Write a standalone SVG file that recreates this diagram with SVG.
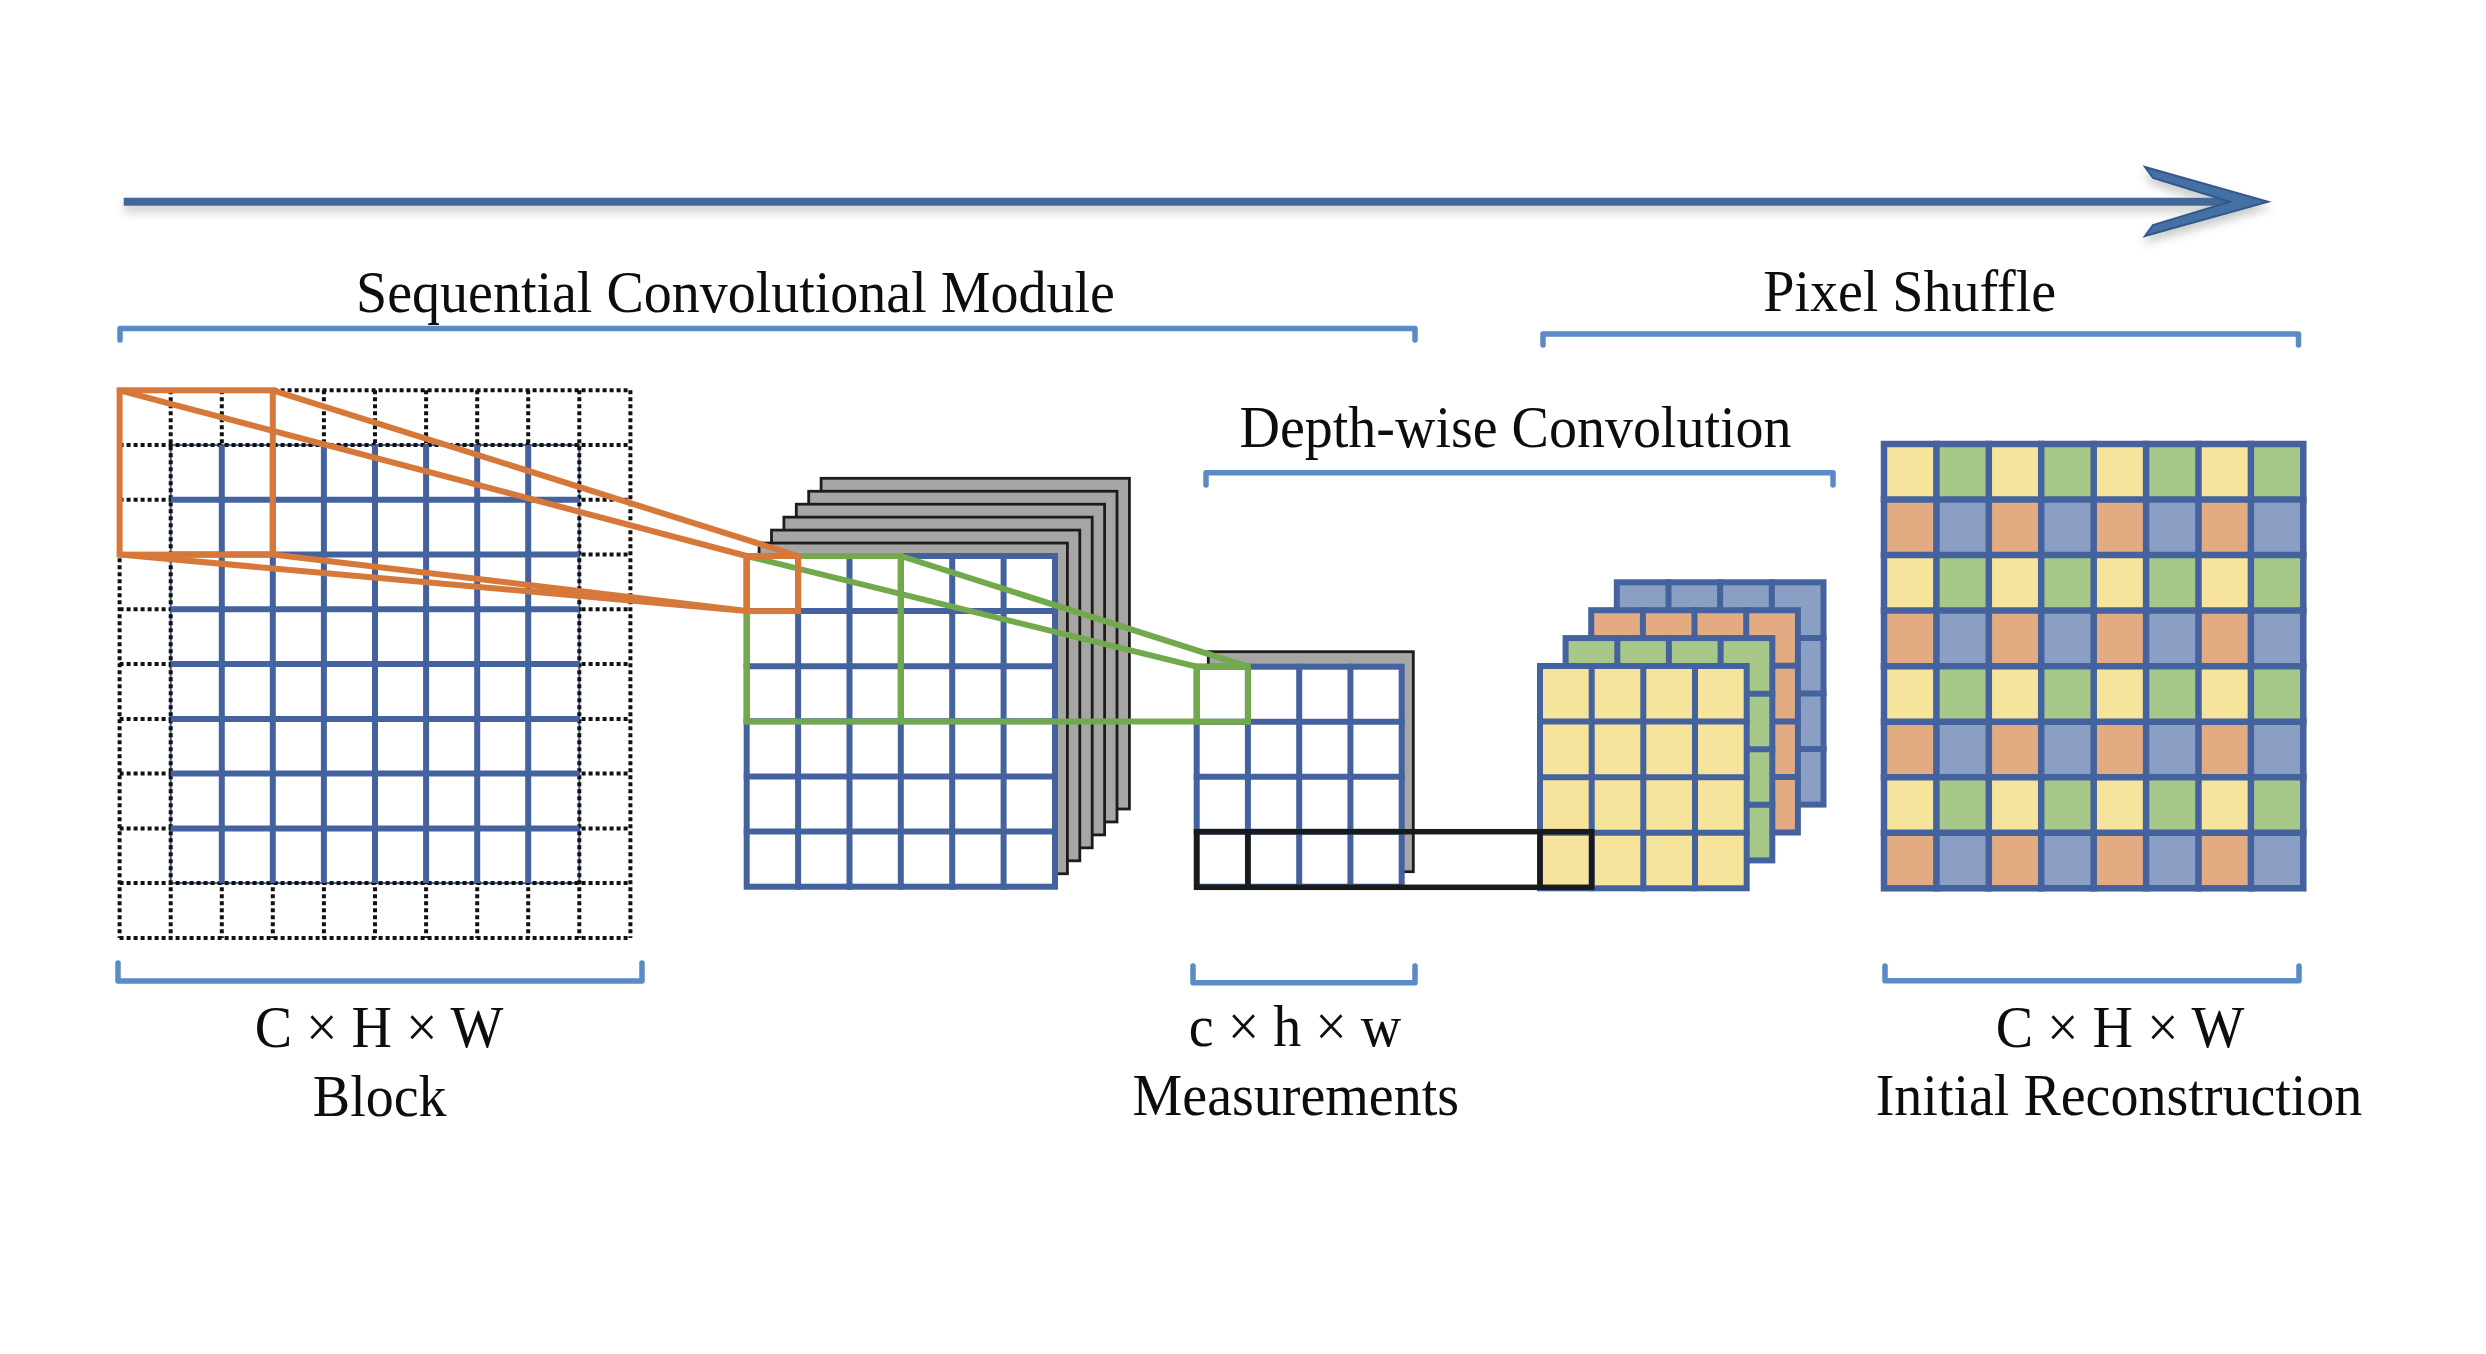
<svg xmlns="http://www.w3.org/2000/svg" width="2486" height="1354" viewBox="0 0 2486 1354">
<defs>
<style>
.lbl{font-family:"Liberation Serif","Times New Roman",serif;font-size:56px;fill:#0d0d0d;text-anchor:middle}
.bl{fill:none;stroke:#44629d;stroke-width:6;stroke-linecap:square}
.cell{stroke:#44629d;stroke-width:6}
.dot{fill:none;stroke:#111;stroke-width:4;stroke-dasharray:4 3}
.gray{fill:#a6a6a4;stroke:#1c1c1c;stroke-width:2.8}
.br{fill:none;stroke:#5b8bc5;stroke-width:5.5;stroke-linejoin:round;stroke-linecap:round}
.or{fill:none;stroke:#d7783b;stroke-width:6}
.gr{fill:none;stroke:#72a94c;stroke-width:6}
.blk{fill:none;stroke:#1a1a1a;stroke-width:5.5}
</style>
<filter id="sh" filterUnits="userSpaceOnUse" x="80" y="140" width="2240" height="130">
<feDropShadow dx="0" dy="6" stdDeviation="5" flood-color="#000" flood-opacity="0.22"/>
</filter>
<pattern id="ps" patternUnits="userSpaceOnUse" x="1884" y="444" width="104.83" height="111.08">
<rect width="52.42" height="55.54" fill="#f7e49c"/>
<rect x="52.41" width="52.42" height="55.54" fill="#a8c88a"/>
<rect y="55.54" width="52.42" height="55.54" fill="#e2ab82"/>
<rect x="52.41" y="55.54" width="52.42" height="55.54" fill="#8b9ec4"/>
</pattern>
<g id="dw">
<rect class="cell" width="206.7" height="222.3"/>
<path class="bl" d="M51.7 0V222.3M103.3 0V222.3M155 0V222.3M0 55.6H206.7M0 111.2H206.7M0 166.7H206.7"/>
</g>
</defs>
<rect width="2486" height="1354" fill="#fff"/>

<g id="block">
<rect x="119.6" y="390.3" width="510.8" height="547.6" fill="#fff"/>
<rect x="170.7" y="445.1" width="408.6" height="438" fill="none" stroke="#44629d" stroke-width="2"/>
<path class="dot" d="M119.6 390.3V937.9M170.7 390.3V937.9M221.8 390.3V937.9M272.8 390.3V937.9M323.9 390.3V937.9M375 390.3V937.9M426.1 390.3V937.9M477.2 390.3V937.9M528.2 390.3V937.9M579.3 390.3V937.9M630.4 390.3V937.9M119.6 390.3H630.4M119.6 445.1H630.4M119.6 499.8H630.4M119.6 554.6H630.4M119.6 609.3H630.4M119.6 664.1H630.4M119.6 718.9H630.4M119.6 773.6H630.4M119.6 828.4H630.4M119.6 883.1H630.4M119.6 937.9H630.4"/>
<path class="bl" style="stroke-linecap:butt" d="M221.8 445.1V883.1M272.8 445.1V883.1M323.9 445.1V883.1M375 445.1V883.1M426.1 445.1V883.1M477.2 445.1V883.1M528.2 445.1V883.1M170.7 499.8H579.3M170.7 554.6H579.3M170.7 609.3H579.3M170.7 664.1H579.3M170.7 718.9H579.3M170.7 773.6H579.3M170.7 828.4H579.3"/>
</g>

<g id="feature-maps">
<rect class="gray" x="821.1" y="478.3" width="308.3" height="330.7"/>
<rect class="gray" x="808.7" y="491.25" width="308.3" height="330.7"/>
<rect class="gray" x="796.3" y="504.2" width="308.3" height="330.7"/>
<rect class="gray" x="783.9" y="517.15" width="308.3" height="330.7"/>
<rect class="gray" x="771.5" y="530.1" width="308.3" height="330.7"/>
<rect class="gray" x="759.1" y="543.05" width="308.3" height="330.7"/>
<rect class="cell" x="746.7" y="556" width="308.3" height="330.7" fill="#fff"/>
<path class="bl" d="M798.1 556V886.7M849.5 556V886.7M900.8 556V886.7M952.2 556V886.7M1003.6 556V886.7M746.7 611.1H1055M746.7 666.2H1055M746.7 721.3H1055M746.7 776.4H1055M746.7 831.6H1055"/>
</g>

<g id="measurements">
<rect class="gray" x="1208.3" y="651.7" width="205" height="220"/>
<rect class="cell" x="1196.7" y="666.7" width="205" height="220" fill="#fff"/>
<path class="bl" d="M1247.9 666.7V886.7M1299.2 666.7V886.7M1350.4 666.7V886.7M1196.7 721.7H1401.7M1196.7 776.7H1401.7M1196.7 831.7H1401.7"/>
</g>

<g id="depthwise">
<use href="#dw" x="1616.8" y="582.3" fill="#8b9ec4"/>
<use href="#dw" x="1591.2" y="610.2" fill="#e2ab82"/>
<use href="#dw" x="1565.6" y="638.1" fill="#a8c88a"/>
<use href="#dw" x="1540" y="666" fill="#f7e49c"/>
</g>

<g id="reconstruction">
<rect class="cell" x="1884" y="444" width="419.3" height="444.3" fill="url(#ps)" style="stroke-width:6.5"/>
<path class="bl" style="stroke-width:6.5" d="M1936.4 444V888.3M1988.8 444V888.3M2041.2 444V888.3M2093.7 444V888.3M2146.1 444V888.3M2198.5 444V888.3M2250.9 444V888.3M1884 499.5H2303.3M1884 555.1H2303.3M1884 610.6H2303.3M1884 666.2H2303.3M1884 721.7H2303.3M1884 777.2H2303.3M1884 832.8H2303.3"/>
</g>

<g id="connectors">
<g id="green-projection">
<rect class="gr" x="746.7" y="556" width="154.1" height="165.5"/>
<path class="gr" d="M746.7 556L1196.7 666.7M900.8 556L1247.9 666.7M900.8 721.5H1196.7"/>
<rect class="gr" x="1196.7" y="666.7" width="51.2" height="55"/>
</g>
<g id="orange-projection">
<rect class="or" x="119.6" y="390.3" width="153.2" height="164.3"/>
<path class="or" d="M119.6 390.3L746.7 556M272.8 390.3L798.1 556M119.6 554.6L746.7 611M272.8 554.6L746.7 611"/>
<rect class="or" x="746.7" y="556" width="51.4" height="55.1"/>
</g>
<g id="black-link">
<rect class="blk" x="1196.7" y="831.7" width="395" height="55.6"/>
<path class="blk" d="M1247.9 831.7V887.3M1540 831.7V887.3"/>
</g>
<g id="arrow" filter="url(#sh)">
<path d="M123.7 201.7H2238" fill="none" stroke="#3f6898" stroke-width="8"/>
<polygon points="2145,167 2268,201.7 2145,236 2153,225 2230,201.7 2153,178" fill="#4470a3" stroke="#34598a" stroke-width="2"/>
</g>
</g>

<g id="brackets">
<path class="br" d="M120 340V328.5H1415V340"/>
<path class="br" d="M1543 345V334H2298.5V345"/>
<path class="br" d="M1206 485V472.7H1833V485"/>
<path class="br" d="M118 963V981H642V963"/>
<path class="br" d="M1193 966V982.7H1415V966"/>
<path class="br" d="M1885 966V980.7H2299V966"/>
</g>

<g id="labels">
<text class="lbl" transform="translate(735.5 312) scale(1 1.06)">Sequential Convolutional Module</text>
<text class="lbl" transform="translate(1909.7 311) scale(1 1.06)">Pixel Shuffle</text>
<text class="lbl" transform="translate(1515.5 447) scale(1 1.06)">Depth-wise Convolution</text>
<text class="lbl" transform="translate(379 1047) scale(1 1.06)">C × H × W</text>
<text class="lbl" transform="translate(379.7 1116) scale(1 1.06)">Block</text>
<text class="lbl" transform="translate(1295 1046) scale(1 1.06)">c × h × w</text>
<text class="lbl" transform="translate(1295.8 1115) scale(1 1.06)">Measurements</text>
<text class="lbl" transform="translate(2120 1047) scale(1 1.06)">C × H × W</text>
<text class="lbl" transform="translate(2119 1115) scale(1 1.06)">Initial Reconstruction</text>
</g>
</svg>
